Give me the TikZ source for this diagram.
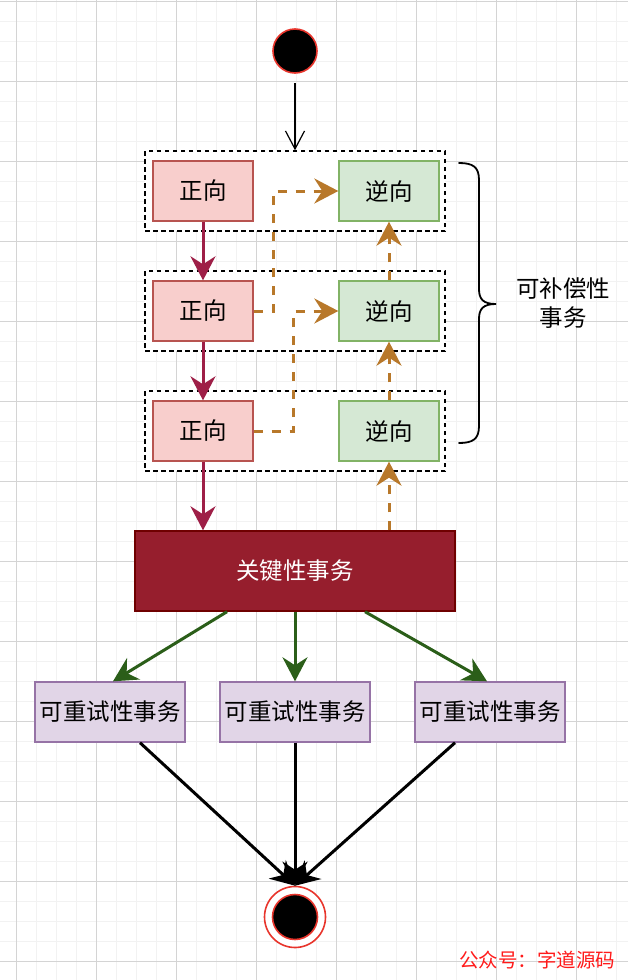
\documentclass[tikz,border=0pt]{standalone}
\usepackage{fontspec}
\setmainfont{Noto Sans CJK SC}
\usetikzlibrary{arrows.meta,calc}
\definecolor{pinkF}{HTML}{F8CECC}
\definecolor{pinkD}{HTML}{B85450}
\definecolor{greenF}{HTML}{D5E8D4}
\definecolor{greenD}{HTML}{82B366}
\definecolor{purpF}{HTML}{E1D5E7}
\definecolor{purpD}{HTML}{9673A6}
\definecolor{critF}{HTML}{961E2D}
\definecolor{critD}{HTML}{6F0000}
\definecolor{redArr}{HTML}{9E1F47}
\definecolor{orArr}{HTML}{B8782A}
\definecolor{grArr}{HTML}{2B5E19}
\definecolor{ringRed}{HTML}{E8352C}
\definecolor{gridMinor}{HTML}{F2F2F2}
\definecolor{gridMajor}{HTML}{D4D4D4}
\definecolor{wmRed}{HTML}{FF1A1A}
\begin{document}
\begin{tikzpicture}[x=1pt,y=-1pt,
  minorgrid/.style={draw=gridMinor,line width=1pt},
  majorgrid/.style={draw=gridMajor,line width=1pt},
  txt/.style={font=\fontsize{23.5}{29}\selectfont},
  fwdbox/.style={draw=pinkD,fill=pinkF,line width=1.4pt,minimum width=100pt,minimum height=60pt,inner sep=0pt,txt},
  revbox/.style={draw=greenD,fill=greenF,line width=1.4pt,minimum width=100pt,minimum height=60pt,inner sep=0pt,txt},
  groupbox/.style={draw=black,line width=1.5pt,dash pattern=on 4.5pt off 3.5pt,fill=white,minimum width=300pt,minimum height=80pt,inner sep=0pt},
  retrybox/.style={draw=purpD,fill=purpF,line width=1.4pt,minimum width=150pt,minimum height=60pt,inner sep=0pt,txt},
  critbox/.style={draw=critD,fill=critF,line width=1.4pt,minimum width=320pt,minimum height=80pt,inner sep=0pt,txt,text=white},
  bigtip/.tip={Stealth[length=24pt,width=25pt,inset=8pt]},
  redarrow/.style={draw=redArr,line width=3pt,-bigtip},
  orarrow/.style={draw=orArr,line width=3pt,dash pattern=on 9pt off 9pt,-bigtip},
  grarrow/.style={draw=grArr,line width=3pt,-bigtip},
  blkarrow/.style={draw=black,line width=3pt,-bigtip},
  openarrow/.style={draw=black,line width=1.2pt,-{Straight Barb[length=18pt,width=19pt]}},
]
\useasboundingbox (0,0) rectangle (628,980);
\fill[white] (0,0) rectangle (628,980);
% grid
\foreach \x in {16,36,...,616} \draw[minorgrid] (\x,0) -- (\x,980);
\foreach \y in {1,21,...,961} \draw[minorgrid] (0,\y) -- (628,\y);
\foreach \x in {16,96,...,576} \draw[majorgrid] (\x,0) -- (\x,980);
\foreach \y in {1,81,...,961} \draw[majorgrid] (0,\y) -- (628,\y);

% start
\node[circle,fill=black,draw=ringRed,line width=1.6pt,minimum size=44pt,inner sep=0pt] (start) at (295,51) {};

% groups
\node[groupbox] (g1) at (295,191) {};
\node[groupbox] (g2) at (295,311) {};
\node[groupbox] (g3) at (295,431) {};

% forward / reverse
\node[fwdbox] (p1) at (203,191) {正向};
\node[fwdbox] (p2) at (203,311) {正向};
\node[fwdbox] (p3) at (203,431) {正向};
\node[revbox] (n1) at (389,191) {逆向};
\node[revbox] (n2) at (389,311) {逆向};
\node[revbox] (n3) at (389,431) {逆向};

% critical
\node[critbox] (crit) at (295,571) {关键性事务};

% retryable
\node[retrybox] (r1) at (110,712) {可重试性事务};
\node[retrybox] (r2) at (295,712) {可重试性事务};
\node[retrybox] (r3) at (490,712) {可重试性事务};

% end
\node[circle,draw=ringRed,fill=white,line width=1.6pt,minimum size=61pt,inner sep=0pt] (endo) at (295,917) {};
\node[circle,fill=black,draw=ringRed,line width=1.6pt,minimum size=45pt,inner sep=0pt] (endi) at (295,917) {};

% brace
\coordinate (btop) at (459,163);
\coordinate (btip) at (496,304);
\coordinate (bbot) at (459,443);
\draw[line width=1.8pt,line cap=round] (btop) .. controls (473,163) and (479,167) .. (479,180)
  -- (479,289) .. controls (479,299) and (483,304) .. (btip)
  .. controls (483,304) and (479,309) .. (479,319)
  -- (479,426) .. controls (479,439) and (473,443) .. (bbot);
\node[txt,align=center] (blabel) at (563,303) {可补偿性\\事务};

% connectors
\draw[openarrow,shorten <=9pt] (start) -- (g1.north);
\draw[redarrow] (p1) -- (p2);
\draw[redarrow] (p2) -- (p3);
\draw[redarrow] (p3.south) -- (p3.south |- crit.north);

\draw[orarrow] (p2.east) -- ([xshift=20pt]p2.east) |- (n1.west);
\draw[orarrow] (p3.east) -- ([xshift=40pt]p3.east) |- (n2.west);
\draw[orarrow] (n3.north) -- (n2.south);
\draw[orarrow] (n2.north) -- (n1.south);
\draw[orarrow] (n3.south |- crit.north) -- (n3.south);

\draw[grarrow] ([xshift=-68pt]crit.south) -- ([xshift=3pt]r1.north);
\draw[grarrow] (crit.south) -- (r2.north);
\draw[grarrow] ([xshift=70pt]crit.south) -- ([xshift=-3pt]r3.north);

\draw[blkarrow] ([xshift=30pt]r1.south) -- (endo.north);
\draw[blkarrow] (r2.south) -- (endo.north);
\draw[blkarrow] ([xshift=-35pt]r3.south) -- (endo.north);

% watermark
\node[text=wmRed,font=\fontsize{19.5}{22}\selectfont,inner sep=0pt] (wm) at (537,960) {公众号：字道源码};
\end{tikzpicture}
\end{document}
